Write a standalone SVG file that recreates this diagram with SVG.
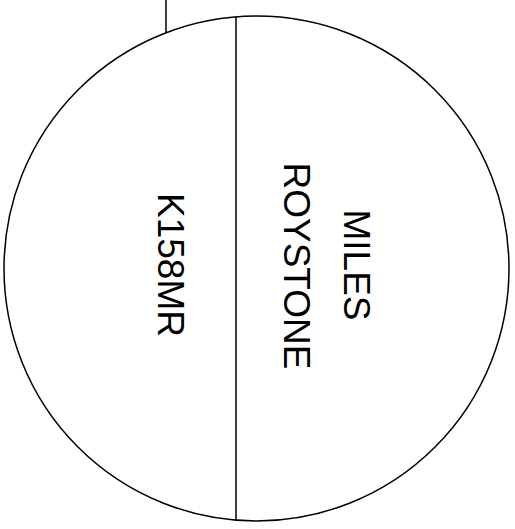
<svg xmlns="http://www.w3.org/2000/svg" width="515" height="529" viewBox="0 0 515 529">
<style>
.ln{fill:none;stroke:#000;stroke-width:1.5}
.t{font-family:"Liberation Sans",Arial,sans-serif;font-size:37px;fill:#000;text-anchor:middle}
</style>
<rect width="515" height="529" fill="#fff"/>
<g id="connectors">
<line class="ln" x1="166" y1="0" x2="166" y2="33"/>
</g>
<g id="node-circle">
<circle class="ln" cx="256.5" cy="268.5" r="252.5"/>
<line class="ln" x1="236" y1="16.5" x2="236" y2="520.5"/>
<text class="t" transform="translate(158,265) rotate(90)">K158MR</text>
<text class="t" transform="translate(344,265) rotate(90)">MILES</text>
<text class="t" transform="translate(284,266) rotate(90)">ROYSTONE</text>
</g>
</svg>
